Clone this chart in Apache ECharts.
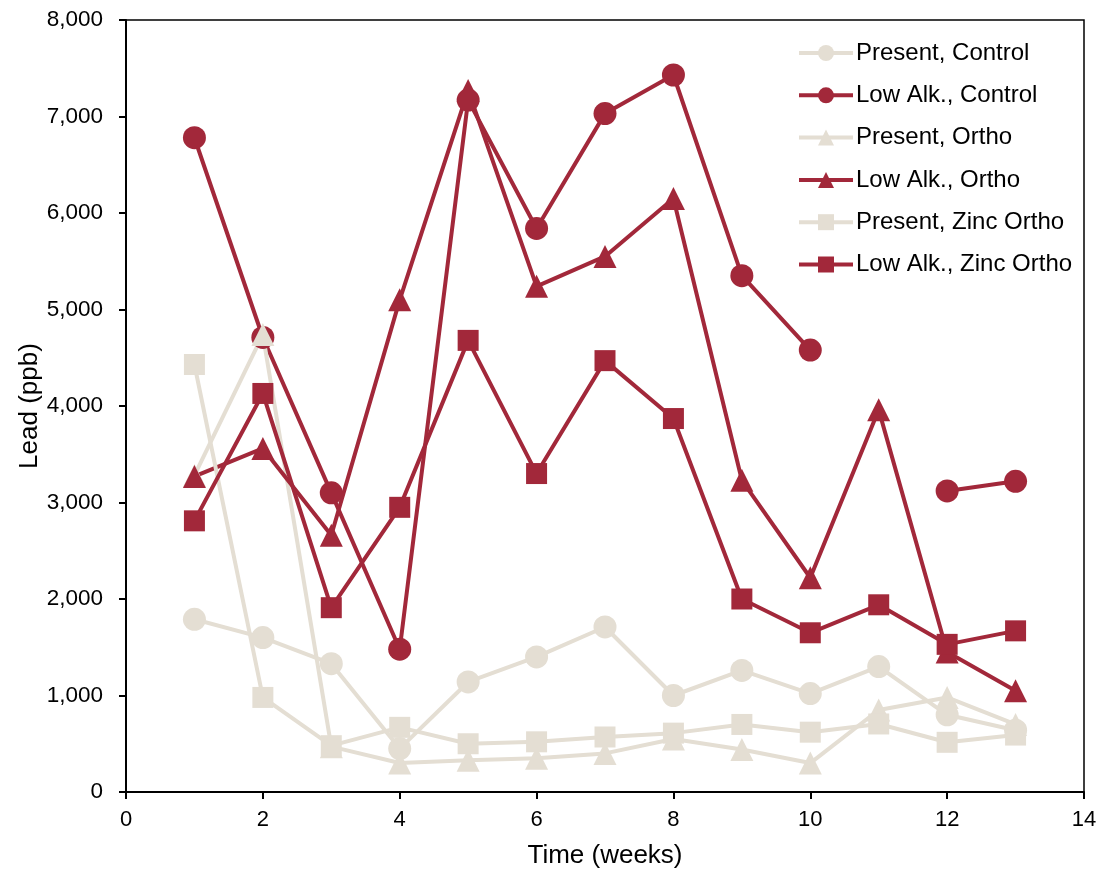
<!DOCTYPE html>
<html>
<head>
<meta charset="utf-8">
<script src="https://cdn.jsdelivr.net/npm/echarts@6/dist/echarts.min.js"></script>
<style>
html,body{margin:0;padding:0;background:#fff;}
#chart{width:1101px;height:869px;}
</style>
</head>
<body>
<div id="chart"></div>
<script>
var weeks = [1, 2, 3, 4, 5, 6, 7, 8, 9, 10, 11, 12, 13];
var presentControl = [1790, 1600, 1330, 450, 1140, 1400, 1710, 1000, 1260, 1020, 1300, 800, 640];
var lowAlkControl = [6780, 4710, 3100, 1480, 7170, 5840, 7030, 7430, 5350, 4580, null, 3120, 3220];
var presentOrtho = [3280, 4740, 470, 300, 330, 350, 400, 550, 440, 300, 850, 980, 700];
var lowAlkOrtho = [3270, 3560, 2660, 5100, 7270, 5240, 5550, 6150, 3230, 2220, 3960, 1450, 1050];
var presentZinc = [4430, 980, 480, 670, 500, 520, 570, 610, 700, 620, 705, 515, 590];
var lowAlkZinc = [2810, 4130, 1910, 2950, 4680, 3300, 4470, 3870, 2000, 1650, 1940, 1530, 1670];
var seriesNames = ['Present, Control', 'Low Alk., Control', 'Present, Ortho', 'Low Alk., Ortho', 'Present, Zinc Ortho', 'Low Alk., Zinc Ortho'];

var LIGHT = '#E4DED3';
var DARK = '#A2283A';
var FONT = '"Liberation Sans", Arial, sans-serif';

function pairs(vals) {
  return weeks.map(function (w, i) { return [w, vals[i] == null ? '-' : vals[i]]; });
}
function mk(name, vals, color, symbol) {
  return {
    name: name, type: 'line', data: pairs(vals),
    symbol: symbol, symbolSize: symbol === 'rect' ? 21 : 23,
    connectNulls: false,
    lineStyle: { color: color, width: 4 },
    itemStyle: { color: color },
    emphasis: { disabled: true },
    animation: false
  };
}
var chart = echarts.init(document.getElementById('chart'));
chart.setOption({
  backgroundColor: '#fff',
  animation: false,
  grid: { left: 126, right: 17, top: 20, bottom: 77, outerBoundsMode: 'none', containLabel: false,
    show: true, borderColor: '#000', borderWidth: 1.5, backgroundColor: 'transparent' },
  legend: {
    orient: 'vertical', left: 792, top: 36,
    itemWidth: 54, itemHeight: 20, itemGap: 18.3,
    lineStyle: { width: 4 },
    textStyle: { fontSize: 24, color: '#000', fontFamily: FONT, padding: [0, 0, 0, -2] },
    data: seriesNames
  },
  xAxis: {
    type: 'value', min: 0, max: 14, interval: 2,
    name: 'Time (weeks)', nameLocation: 'middle', nameGap: 51, nameMoveOverlap: false,
    nameTextStyle: { fontSize: 26, color: '#000', fontFamily: FONT },
    axisLine: { lineStyle: { color: '#000', width: 2 } },
    axisTick: { show: true, inside: false, length: 7, lineStyle: { color: '#000', width: 2 } },
    axisLabel: { fontSize: 22, color: '#000', fontFamily: FONT, margin: 17 },
    splitLine: { show: false }
  },
  yAxis: {
    type: 'value', min: 0, max: 8000, interval: 1000,
    name: 'Lead (ppb)', nameLocation: 'middle', nameGap: 83, nameRotate: 90, nameMoveOverlap: false,
    nameTextStyle: { fontSize: 26, color: '#000', fontFamily: FONT },
    axisLine: { show: true, lineStyle: { color: '#000', width: 2 } },
    axisTick: { show: true, inside: false, length: 7, lineStyle: { color: '#000', width: 2 } },
    axisLabel: { fontSize: 22.5, color: '#000', fontFamily: FONT, margin: 23,
      formatter: function (v) { return v.toLocaleString('en-US'); } },
    splitLine: { show: false }
  },
  series: [
    mk(seriesNames[0], presentControl, LIGHT, 'circle'),
    mk(seriesNames[1], lowAlkControl, DARK, 'circle'),
    mk(seriesNames[2], presentOrtho, LIGHT, 'triangle'),
    mk(seriesNames[3], lowAlkOrtho, DARK, 'triangle'),
    mk(seriesNames[4], presentZinc, LIGHT, 'rect'),
    mk(seriesNames[5], lowAlkZinc, DARK, 'rect')
  ]
});
</script>
</body>
</html>
